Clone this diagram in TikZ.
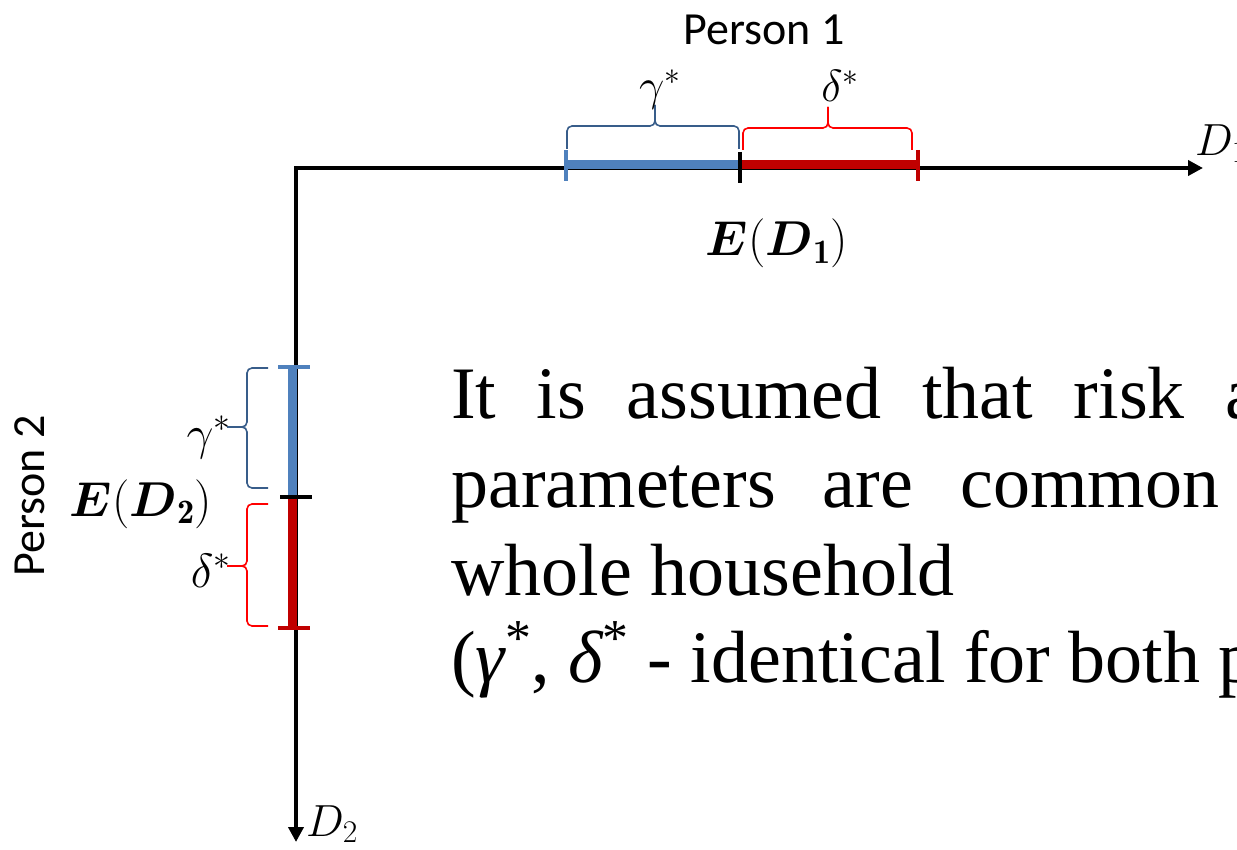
\documentclass[tikz,border=0pt]{standalone}
\usepackage{fix-cm}
\usepackage{amsmath}
\usepackage{fontspec}
\newfontfamily\bodyfont{Liberation Serif}
\newfontfamily\calibrifont{Carlito}
\usetikzlibrary{arrows.meta, calc, positioning}

\definecolor{barblue}{HTML}{4F81BD}
\definecolor{braceblue}{HTML}{385D8A}
\definecolor{barred}{HTML}{C00000}
\definecolor{bracered}{HTML}{FF0000}

\begin{document}
\begin{tikzpicture}[>={Triangle[length=15pt, width=15pt]}, x=1pt, y=-1pt,
  axisline/.style={line width=4pt},
  bluebar/.style={line width=9pt, barblue},
  redbar/.style={line width=9pt, barred},
  tickmark/.style={line width=4.5pt},
  braceline/.style={line width=1.6pt, rounded corners=5pt},
  sym/.style={inner sep=0pt, font=\fontsize{45}{48}\selectfont},
  symbig/.style={inner sep=0pt, font=\fontsize{48}{52}\selectfont},
  expval/.style={inner sep=0pt, font=\fontsize{49}{52}\selectfont},
  person/.style={inner sep=0pt, font=\calibrifont\fontsize{46}{50}\selectfont},
  bodytext/.style={anchor=base west, inner sep=0pt, font=\bodyfont\fontsize{74}{88}\selectfont}]

% frame of the slide crop
\useasboundingbox (0,0) rectangle (1237,850);
\clip (0,0) rectangle (1237,850);

% the two axes
\coordinate (origin) at (296,168);
\coordinate (xtip) at (1203,168);
\coordinate (ytip) at (296,842);
\draw[axisline, <->] (xtip) -- (origin) -- (ytip);
\node[sym, anchor=base west] (d1) at (1195,156) {$D_1$};
\node[sym, anchor=base west] (d2) at (306,836) {$D_2$};

% Person 1 on the horizontal axis
\coordinate (g1) at (566,165);
\coordinate (e1) at (740,165);
\coordinate (h1) at (918,165);
\draw[bluebar] (g1) -- (e1);
\draw[redbar] (e1) -- (h1);
\draw[tickmark, barblue] ($(g1)+(0,-15)$) -- ($(g1)+(0,16)$);
\draw[tickmark] ($(e1)+(0,-13)$) -- ($(e1)+(0,18)$);
\draw[tickmark, barred] ($(h1)+(0,-15)$) -- ($(h1)+(0,16)$);

% braces above the bars
\coordinate (gtip1) at (655,105);
\coordinate (dtip1) at (828,107);
\draw[braceline, braceblue] (567,149) -- (567,126) -- (655,126) -- (gtip1);
\draw[braceline, braceblue] (739,149) -- (739,126) -- (655,126) -- (gtip1);
\draw[braceline, bracered] (743,150) -- (743,128) -- (828,128) -- (dtip1);
\draw[braceline, bracered] (912,150) -- (912,128) -- (828,128) -- (dtip1);

\node[sym, anchor=base] (gamma1) at ($(gtip1)+(5,-4)$) {$\gamma^*$};
\node[sym, anchor=base] (delta1) at ($(dtip1)+(12,-5)$) {$\delta^*$};
\node[expval, anchor=base] (ed1) at (777,256) {$\boldsymbol{E}(\boldsymbol{D}_{\mathbf{1}})$};
\node[person, anchor=base] (p1) at (764,45) {Person 1};

% Person 2 on the vertical axis
\coordinate (g2) at (292,367);
\coordinate (e2) at (292,497);
\coordinate (h2) at (292,628);
\draw[bluebar] (g2) -- (e2);
\draw[redbar] (e2) -- (h2);
\draw[tickmark, barblue] ($(g2)+(-14,0)$) -- ($(g2)+(18,0)$);
\draw[tickmark] ($(e2)+(-12,0)$) -- ($(e2)+(20,0)$);
\draw[tickmark, barred] ($(h2)+(-14,0)$) -- ($(h2)+(18,0)$);

% braces left of the bars
\coordinate (gtip2) at (227,427);
\coordinate (dtip2) at (227,566);
\draw[braceline, braceblue] (268,368) -- (247,368) -- (247,427) -- (gtip2);
\draw[braceline, braceblue] (268,488) -- (247,488) -- (247,427) -- (gtip2);
\draw[braceline, bracered] (268,504) -- (247,504) -- (247,566) -- (dtip2);
\draw[braceline, bracered] (268,626) -- (247,626) -- (247,566) -- (dtip2);

\node[symbig, anchor=base east] (gamma2) at ($(gtip2)+(4,22)$) {$\gamma^*$};
\node[symbig, anchor=base east] (delta2) at ($(dtip2)+(4,21)$) {$\delta^*$};
\node[expval, anchor=base] (ed2) at (141,516) {$\boldsymbol{E}(\boldsymbol{D}_{\mathbf{2}})$};
\node[person, rotate=90, anchor=base] (p2) at (44,496) {Person 2};

% the statement on the right
\node[bodytext] (line1) at (451,418) {\makebox[807pt][s]{It is assumed that risk a}};
\node[bodytext] (line2) at (451,507) {\makebox[768pt][s]{parameters are common}};
\node[bodytext] (line3) at (451,595) {whole household};
\node[bodytext] (line4) at (451,682) {({\itshape γ}\textsuperscript{*}, {\itshape δ}\textsuperscript{*} - identical for both p};

\end{tikzpicture}
\end{document}
